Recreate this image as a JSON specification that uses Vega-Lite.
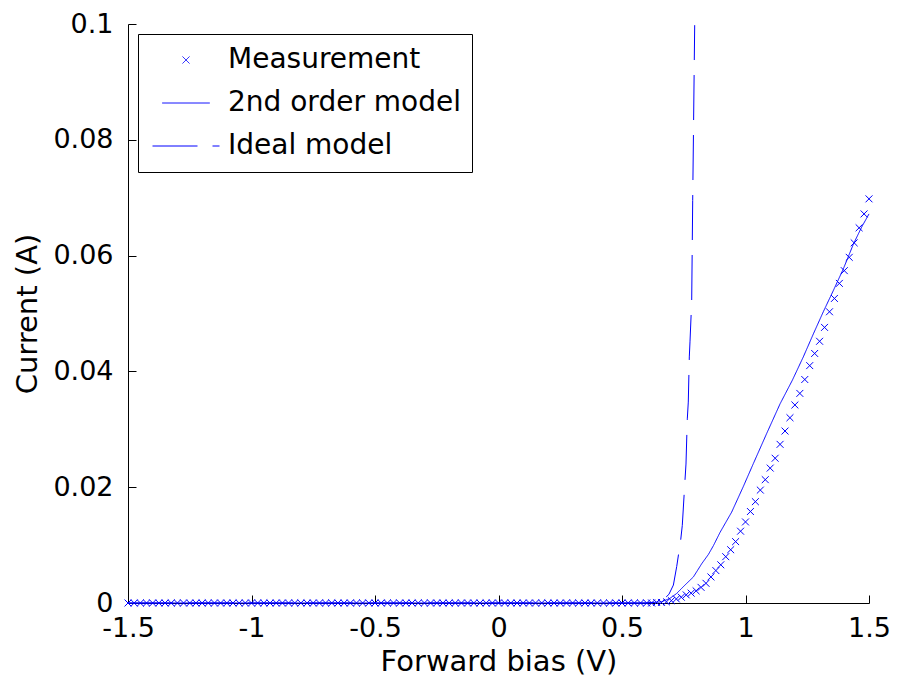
{
  "$schema": "https://vega.github.io/schema/vega-lite/v6.json",
  "width": 741,
  "height": 579,
  "autosize": {"type": "none"},
  "padding": {"left": 128, "top": 24, "right": 28, "bottom": 85},
  "background": "white",
  "config": {
    "view": {"stroke": null},
    "axis": {
      "domainColor": "black", "tickColor": "black", "labelColor": "black", "titleColor": "black",
      "grid": false, "labelFont": "DejaVu Sans", "titleFont": "DejaVu Sans",
      "labelFontSize": 27, "titleFontSize": 29, "titleFontWeight": "normal",
      "tickSize": -8, "domainWidth": 1, "tickWidth": 1, "labelOverlap": false, "labelFlush": false
    },
    "legend": {
      "orient": "top-left", "offset": 10, "strokeColor": "black", "fillColor": "white",
      "padding": 11, "labelFont": "DejaVu Sans", "labelFontSize": 28, "labelColor": "black", "labelLimit": 0,
      "symbolStrokeWidth": 1, "symbolFillColor": "transparent", "symbolStrokeColor": "#0000ff", "clipHeight": 30,
      "rowPadding": 13, "labelOffset": 8, "symbolOffset": 3, "cornerRadius": 0
    }
  },
  "datasets": {
    "meas": [
      {"v":-1.5,"i":0},{"v":-1.475,"i":0},{"v":-1.45,"i":0},{"v":-1.425,"i":0},{"v":-1.4,"i":0},{"v":-1.375,"i":0},{"v":-1.35,"i":0},{"v":-1.325,"i":0},{"v":-1.3,"i":0},{"v":-1.275,"i":0},
      {"v":-1.25,"i":0},{"v":-1.225,"i":0},{"v":-1.2,"i":0},{"v":-1.175,"i":0},{"v":-1.15,"i":0},{"v":-1.125,"i":0},{"v":-1.1,"i":0},{"v":-1.075,"i":0},{"v":-1.05,"i":0},{"v":-1.025,"i":0},
      {"v":-1,"i":0},{"v":-0.975,"i":0},{"v":-0.95,"i":0},{"v":-0.925,"i":0},{"v":-0.9,"i":0},{"v":-0.875,"i":0},{"v":-0.85,"i":0},{"v":-0.825,"i":0},{"v":-0.8,"i":0},{"v":-0.775,"i":0},
      {"v":-0.75,"i":0},{"v":-0.725,"i":0},{"v":-0.7,"i":0},{"v":-0.675,"i":0},{"v":-0.65,"i":0},{"v":-0.625,"i":0},{"v":-0.6,"i":0},{"v":-0.575,"i":0},{"v":-0.55,"i":0},{"v":-0.525,"i":0},
      {"v":-0.5,"i":0},{"v":-0.475,"i":0},{"v":-0.45,"i":0},{"v":-0.425,"i":0},{"v":-0.4,"i":0},{"v":-0.375,"i":0},{"v":-0.35,"i":0},{"v":-0.325,"i":0},{"v":-0.3,"i":0},{"v":-0.275,"i":0},
      {"v":-0.25,"i":0},{"v":-0.225,"i":0},{"v":-0.2,"i":0},{"v":-0.175,"i":0},{"v":-0.15,"i":0},{"v":-0.125,"i":0},{"v":-0.1,"i":0},{"v":-0.075,"i":0},{"v":-0.05,"i":0},{"v":-0.025,"i":0},
      {"v":0,"i":0},{"v":0.025,"i":0},{"v":0.05,"i":0},{"v":0.075,"i":0},{"v":0.1,"i":0},{"v":0.125,"i":0},{"v":0.15,"i":0},{"v":0.175,"i":0},{"v":0.2,"i":0},{"v":0.225,"i":0},
      {"v":0.25,"i":0},{"v":0.275,"i":0},{"v":0.3,"i":0},{"v":0.325,"i":0},{"v":0.35,"i":0},{"v":0.375,"i":0},{"v":0.4,"i":0},{"v":0.425,"i":0},{"v":0.45,"i":0},{"v":0.475,"i":0},
      {"v":0.5,"i":0},{"v":0.525,"i":0},{"v":0.55,"i":0},{"v":0.575,"i":0},{"v":0.6,"i":0},
      {"v":0.62,"i":0},{"v":0.64,"i":0.0001},{"v":0.66,"i":0.0001},{"v":0.68,"i":0.0002},{"v":0.7,"i":0.0004},
      {"v":0.72,"i":0.0007},{"v":0.74,"i":0.001},{"v":0.76,"i":0.0014},{"v":0.78,"i":0.0017},{"v":0.8,"i":0.0021},
      {"v":0.82,"i":0.0027},{"v":0.84,"i":0.0034},{"v":0.86,"i":0.0045},{"v":0.88,"i":0.0056},{"v":0.9,"i":0.0066},
      {"v":0.92,"i":0.008},{"v":0.94,"i":0.0092},{"v":0.96,"i":0.0106},{"v":0.98,"i":0.0124},{"v":1.0,"i":0.014},
      {"v":1.02,"i":0.0158},{"v":1.04,"i":0.0175},{"v":1.06,"i":0.0195},{"v":1.08,"i":0.0213},{"v":1.1,"i":0.0233},
      {"v":1.12,"i":0.025},{"v":1.14,"i":0.0274},{"v":1.16,"i":0.0297},{"v":1.18,"i":0.032},{"v":1.2,"i":0.0342},
      {"v":1.22,"i":0.0362},{"v":1.24,"i":0.0386},{"v":1.26,"i":0.041},{"v":1.28,"i":0.0431},{"v":1.3,"i":0.0452},
      {"v":1.32,"i":0.0476},{"v":1.34,"i":0.0503},{"v":1.36,"i":0.0526},{"v":1.38,"i":0.0552},{"v":1.4,"i":0.0574},
      {"v":1.42,"i":0.0597},{"v":1.44,"i":0.0622},{"v":1.46,"i":0.0648},{"v":1.48,"i":0.0672},{"v":1.5,"i":0.0698}
    ],
    "second": [
      {"v":-1.5,"i":0},{"v":0.6,"i":0},{"v":0.66,"i":0.0002},{"v":0.694,"i":0.0008},{"v":0.72,"i":0.0016},
      {"v":0.755,"i":0.0031},{"v":0.789,"i":0.0045},{"v":0.823,"i":0.0068},{"v":0.85,"i":0.0084},{"v":0.87,"i":0.0099},{"v":0.897,"i":0.0122},
      {"v":0.944,"i":0.0157},{"v":0.991,"i":0.0201},{"v":1.032,"i":0.0241},{"v":1.086,"i":0.0293},{"v":1.14,"i":0.0344},
      {"v":1.19,"i":0.0385},{"v":1.234,"i":0.0425},{"v":1.275,"i":0.0465},{"v":1.315,"i":0.0503},{"v":1.356,"i":0.054},
      {"v":1.396,"i":0.0577},{"v":1.437,"i":0.062},{"v":1.47,"i":0.0649},{"v":1.5,"i":0.0672}
    ],
    "ideal": [
      {"v":-1.5,"i":0},{"v":0.6,"i":0},{"v":0.66,"i":0.0003},{"v":0.69,"i":0.0015},{"v":0.708,"i":0.0031},
      {"v":0.7215,"i":0.0063},{"v":0.7377,"i":0.0109},{"v":0.7441,"i":0.0134},{"v":0.755,"i":0.0212},{"v":0.7591,"i":0.024},
      {"v":0.7644,"i":0.0318},{"v":0.7684,"i":0.0347},{"v":0.7725,"i":0.0425},{"v":0.7753,"i":0.0451},{"v":0.7822,"i":0.0522},
      {"v":0.7862,"i":0.0695},{"v":0.7943,"i":0.0998}
    ]
  },
  "encoding": {
    "x": {"field": "v", "type": "quantitative",
      "scale": {"domain": [-1.5, 1.5], "nice": false, "zero": false},
      "axis": {"title": "Forward bias (V)", "values": [-1.5, -1, -0.5, 0, 0.5, 1, 1.5], "labelExpr": "datum.value + ''", "labelPadding": 20, "titlePadding": 6}},
    "y": {"field": "i", "type": "quantitative",
      "scale": {"domain": [0, 0.1], "nice": false},
      "axis": {"title": "Current (A)", "values": [0, 0.02, 0.04, 0.06, 0.08, 0.1], "labelExpr": "datum.value + ''", "labelPadding": 23, "titlePadding": 10}}
  },
  "layer": [
    {
      "data": {"name": "meas"},
      "mark": {"type": "point", "filled": false, "strokeWidth": 1, "opacity": 1},
      "encoding": {
        "color": {"datum": "Measurement", "type": "nominal",
          "scale": {"domain": ["Measurement", "2nd order model", "Ideal model"], "range": ["#0000ff", "#0000ff", "#0000ff"]},
          "legend": {"title": null}},
        "shape": {"datum": "Measurement", "type": "nominal",
          "scale": {"domain": ["Measurement", "2nd order model", "Ideal model"], "range": ["M-1,-1L1,1M-1,1L1,-1", "stroke", "stroke"]},
          "legend": {"title": null}},
        "size": {"datum": "Measurement", "type": "nominal",
          "scale": {"domain": ["Measurement", "2nd order model", "Ideal model"], "range": [48, 4489, 4489]},
          "legend": {"title": null}}
      }
    },
    {
      "data": {"name": "second"},
      "mark": {"type": "line", "strokeWidth": 1},
      "encoding": {
        "color": {"datum": "2nd order model", "type": "nominal"},
        "strokeDash": {"datum": "2nd order model", "type": "nominal",
          "scale": {"domain": ["Measurement", "2nd order model", "Ideal model"], "range": [[1, 0], [1, 0], [45, 15]]},
          "legend": {"title": null}}
      }
    },
    {
      "data": {"name": "ideal"},
      "mark": {"type": "line", "strokeWidth": 1},
      "encoding": {
        "color": {"datum": "Ideal model", "type": "nominal"},
        "strokeDash": {"datum": "Ideal model", "type": "nominal"}
      }
    }
  ]
}
